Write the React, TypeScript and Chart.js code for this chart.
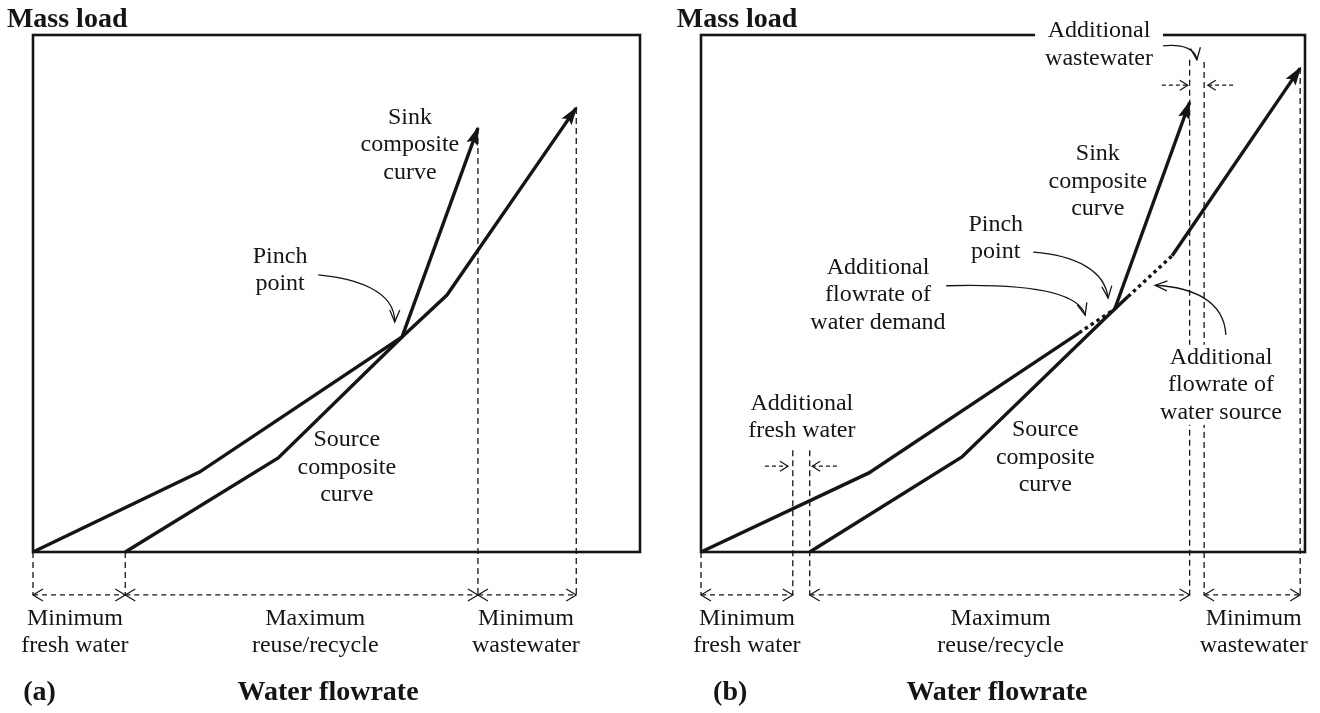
import React, { useEffect, useRef } from "react";
import { Chart, registerables } from "chart.js";
Chart.register(...registerables);

type P = [number, number];

// ---------- Panel (a) ----------
const sinkA: P[] = [[0, 0], [27.5, 15.5], [60.8, 41.6], [73.3, 82.0]];
const sourceA: P[] = [[15.2, 0], [40.4, 18.2], [60.8, 41.6], [68.2, 49.7], [89.5, 85.9]];
const sinkDottedA: number[] = [];
const sourceDottedA: number[] = [];
// vertical guides: x, yTop, yBottom
const guidesA: [number, number, number][] = [[0, 0, -8.3], [15.2, 0, -8.3], [73.3, 82.0, -8.3], [89.5, 85.9, -8.3]];
// double-headed spans along the bottom
const spansA: P[] = [[0, 15.2], [15.2, 73.3], [73.3, 89.5]];
// single-headed small arrows: x0, x1 (head at x1), y
const smallA: [number, number, number][] = [];

// ---------- Panel (b) ----------
const sinkB: P[] = [[0, 0], [27.8, 15.3], [62.6, 42.4], [68.5, 47.0], [80.9, 87.0]];
const sourceB: P[] = [[18.0, 0], [43.2, 18.4], [68.5, 47.0], [70.7, 49.4], [78.0, 57.3], [99.2, 93.6]];
const sinkDottedB: number[] = [2];
const sourceDottedB: number[] = [3];
const guidesB: [number, number, number][] = [
  [0, 0, -8.3], [15.2, 19.7, -8.3], [18.0, 19.7, -8.3],
  [80.9, 95.2, -8.3], [83.3, 94.8, -8.3], [99.2, 93.6, -8.3],
];
const spansB: P[] = [[0, 15.2], [18.0, 80.9], [83.3, 99.2]];
const smallB: [number, number, number][] = [
  [76.3, 80.6, 90.3], [88.1, 83.9, 90.3],
  [10.6, 14.4, 16.6], [22.5, 18.4, 16.6],
];

const spanY = -8.3;

// ---------- Text labels ----------
type Label = { lines: string[]; x: number; y: number; align?: CanvasTextAlign; bold?: boolean; bgPad?: number };

const labelsA: Label[] = [
  { lines: ["Mass load"], x: -4.3, y: 101.5, align: "left", bold: true },
  { lines: ["Sink", "composite", "curve"], x: 62.1, y: 82.8 },
  { lines: ["Pinch", "point"], x: 40.7, y: 55.9 },
  { lines: ["Source", "composite", "curve"], x: 51.7, y: 20.5 },
  { lines: ["Minimum", "fresh water"], x: 6.9, y: -14.1 },
  { lines: ["Maximum", "reuse/recycle"], x: 46.5, y: -14.1 },
  { lines: ["Minimum", "wastewater"], x: 81.2, y: -14.1 },
  { lines: ["(a)"], x: -1.6, y: -28.6, align: "left", bold: true },
  { lines: ["Water flowrate"], x: 48.6, y: -28.6, bold: true },
];

const labelsB: Label[] = [
  { lines: ["Mass load"], x: -4.0, y: 101.5, align: "left", bold: true },
  { lines: ["Additional", "wastewater"], x: 65.9, y: 99.6, bgPad: 10 },
  { lines: ["Sink", "composite", "curve"], x: 65.7, y: 75.8 },
  { lines: ["Pinch", "point"], x: 48.8, y: 62.1 },
  { lines: ["Additional", "flowrate of", "water demand"], x: 29.3, y: 53.8 },
  { lines: ["Additional", "flowrate of", "water source"], x: 86.1, y: 36.4, bgPad: 2 },
  { lines: ["Additional", "fresh water"], x: 16.7, y: 27.5 },
  { lines: ["Source", "composite", "curve"], x: 57.0, y: 22.4 },
  { lines: ["Minimum", "fresh water"], x: 7.6, y: -14.1 },
  { lines: ["Maximum", "reuse/recycle"], x: 49.6, y: -14.1 },
  { lines: ["Minimum", "wastewater"], x: 91.5, y: -14.1 },
  { lines: ["(b)"], x: 2.0, y: -28.6, align: "left", bold: true },
  { lines: ["Water flowrate"], x: 49.0, y: -28.6, bold: true },
];

// curved pointer arrows: start, ctrl1, ctrl2, end (data units)
const pointersA: number[][] = [[47.0, 53.6, 53.0, 52.9, 59.6, 50.7, 59.6, 44.5]];
const pointersB: number[][] = [
  [76.5, 97.9, 80.1, 98.3, 81.9, 97.1, 82.1, 95.2],
  [55.0, 58.0, 61.9, 57.4, 66.9, 54.5, 67.4, 49.1],
  [40.6, 51.5, 56.1, 52.0, 62.7, 49.7, 63.6, 45.8],
  [86.9, 42.0, 86.6, 48.7, 81.3, 51.2, 75.2, 51.6],
];

type Panel = {
  sink: P[]; source: P[]; sinkDotted: number[]; sourceDotted: number[];
  guides: [number, number, number][]; spans: P[]; small: [number, number, number][];
  labels: Label[]; pointers: number[][]; pad: { left: number; right: number; top: number; bottom: number };
};

const panels: Panel[] = [
  { sink: sinkA, source: sourceA, sinkDotted: sinkDottedA, sourceDotted: sourceDottedA, guides: guidesA, spans: spansA, small: smallA, labels: labelsA, pointers: pointersA, pad: { left: 33, right: 20, top: 35, bottom: 161 } },
  { sink: sinkB, source: sourceB, sinkDotted: sinkDottedB, sourceDotted: sourceDottedB, guides: guidesB, spans: spansB, small: smallB, labels: labelsB, pointers: pointersB, pad: { left: 41, right: 15, top: 35, bottom: 161 } },
];

const INK = "#151515";
const SERIF = "'Liberation Serif', 'Times New Roman', serif";
const LINE_H = 27.5;

function openHead(ctx: CanvasRenderingContext2D, sx: number, sy: number, tx: number, ty: number, L: number, W: number) {
  const a = Math.atan2(ty - sy, tx - sx);
  const c = Math.cos(a), s = Math.sin(a);
  ctx.beginPath();
  ctx.moveTo(tx - L * c - W * s, ty - L * s + W * c);
  ctx.lineTo(tx, ty);
  ctx.lineTo(tx - L * c + W * s, ty - L * s - W * c);
  ctx.stroke();
}

function filledHead(ctx: CanvasRenderingContext2D, sx: number, sy: number, tx: number, ty: number, L: number, W: number) {
  const a = Math.atan2(ty - sy, tx - sx);
  const c = Math.cos(a), s = Math.sin(a);
  ctx.beginPath();
  ctx.moveTo(tx + 2 * c, ty + 2 * s);
  ctx.lineTo(tx - L * c - W * s, ty - L * s + W * c);
  ctx.lineTo(tx - L * 0.8 * c, ty - L * 0.8 * s);
  ctx.lineTo(tx - L * c + W * s, ty - L * s - W * c);
  ctx.closePath();
  ctx.fill();
}

function makePlugin(p: Panel) {
  return {
    id: "schematic",
    afterDatasetsDraw(chart: any) {
      const { ctx, chartArea: ca } = chart;
      const X = (v: number) => chart.scales.x.getPixelForValue(v);
      const Y = (v: number) => chart.scales.y.getPixelForValue(v);
      ctx.save();
      ctx.setLineDash([]);
      // frame
      ctx.strokeStyle = INK;
      ctx.lineWidth = 2.6;
      ctx.strokeRect(ca.left, ca.top, ca.right - ca.left, ca.bottom - ca.top);

      // span heads
      ctx.lineWidth = 1.2;
      for (const [a, b] of p.spans) {
        openHead(ctx, X(b), Y(spanY), X(a), Y(spanY), 10, 6);
        openHead(ctx, X(a), Y(spanY), X(b), Y(spanY), 10, 6);
      }
      for (const [a, b, yy] of p.small) {
        openHead(ctx, X(a), Y(yy), X(b), Y(yy), 8, 5);
      }

      // labels
      ctx.fillStyle = INK;
      for (const lb of p.labels) {
        ctx.font = lb.bold ? `bold 28px ${SERIF}` : `24px ${SERIF}`;
        ctx.textAlign = lb.align || "center";
        ctx.textBaseline = "alphabetic";
        const x0 = X(lb.x);
        const y0 = Y(lb.y);
        if (lb.bgPad !== undefined) {
          const w = Math.max(...lb.lines.map((t) => ctx.measureText(t).width));
          ctx.fillStyle = "#ffffff";
          ctx.fillRect(x0 - w / 2 - lb.bgPad, y0 - 19, w + 2 * lb.bgPad, (lb.lines.length - 1) * LINE_H + 25);
          ctx.fillStyle = INK;
        }
        lb.lines.forEach((t, i) => ctx.fillText(t, x0, y0 + i * LINE_H));
      }

      // curved pointers
      ctx.lineWidth = 1.3;
      ctx.strokeStyle = INK;
      for (const q of p.pointers) {
        const pts = [0, 2, 4, 6].map((i) => [X(q[i]), Y(q[i + 1])]);
        ctx.beginPath();
        ctx.moveTo(pts[0][0], pts[0][1]);
        ctx.bezierCurveTo(pts[1][0], pts[1][1], pts[2][0], pts[2][1], pts[3][0], pts[3][1]);
        ctx.stroke();
        openHead(ctx, pts[2][0], pts[2][1], pts[3][0], pts[3][1], 12, 5);
      }

      // filled heads on composite curves
      ctx.fillStyle = INK;
      for (const c of [p.sink, p.source]) {
        const n = c.length;
        filledHead(ctx, X(c[n - 2][0]), Y(c[n - 2][1]), X(c[n - 1][0]), Y(c[n - 1][1]), 17, 6);
      }
      ctx.restore();
    },
  };
}

function buildDatasets(p: Panel) {
  const ds: any[] = [];
  const base = { pointRadius: 0, clip: false as any, fill: false, borderColor: INK, tension: 0 };
  for (const [gx, y0, y1] of p.guides) {
    ds.push({ ...base, data: [{ x: gx, y: y0 }, { x: gx, y: y1 }], borderWidth: 1.3, borderDash: [6, 4] });
  }
  for (const [a, b] of p.spans) {
    ds.push({ ...base, data: [{ x: a, y: spanY }, { x: b, y: spanY }], borderWidth: 1.2, borderDash: [5, 4] });
  }
  for (const [a, b, yy] of p.small) {
    ds.push({ ...base, data: [{ x: a, y: yy }, { x: b, y: yy }], borderWidth: 1.2, borderDash: [4, 3] });
  }
  const curve = (pts: P[], dotted: number[]) => ({
    ...base,
    data: pts.map(([x, y]) => ({ x, y })),
    borderWidth: 3.4,
    borderJoinStyle: "miter",
    segment: {
      borderDash: (ctx: any) => (dotted.includes(ctx.p0DataIndex) ? [3.5, 3.5] : undefined),
    },
  });
  ds.push(curve(p.sink, p.sinkDotted));
  ds.push(curve(p.source, p.sourceDotted));
  return ds;
}

function PanelChart({ panel }: { panel: Panel }) {
  const ref = useRef<HTMLCanvasElement | null>(null);
  useEffect(() => {
    if (!ref.current) return;
    const chart = new Chart(ref.current, {
      type: "line",
      data: { datasets: buildDatasets(panel) },
      options: {
        responsive: false,
        animation: false,
        devicePixelRatio: 1,
        events: [],
        layout: { padding: panel.pad },
        plugins: { legend: { display: false }, tooltip: { enabled: false } },
        scales: {
          x: { type: "linear", min: 0, max: 100, display: false },
          y: { type: "linear", min: 0, max: 100, display: false },
        },
      },
      plugins: [makePlugin(panel)],
    } as any);
    return () => chart.destroy();
  }, [panel]);
  return <canvas ref={ref} width={660} height={713} style={{ width: 660, height: 713, display: "block" }} />;
}

export default function App() {
  return (
    <div style={{ position: "absolute", left: 0, top: 0, width: 1320, height: 713, display: "flex", background: "#fff" }}>
      <PanelChart panel={panels[0]} />
      <PanelChart panel={panels[1]} />
    </div>
  );
}
